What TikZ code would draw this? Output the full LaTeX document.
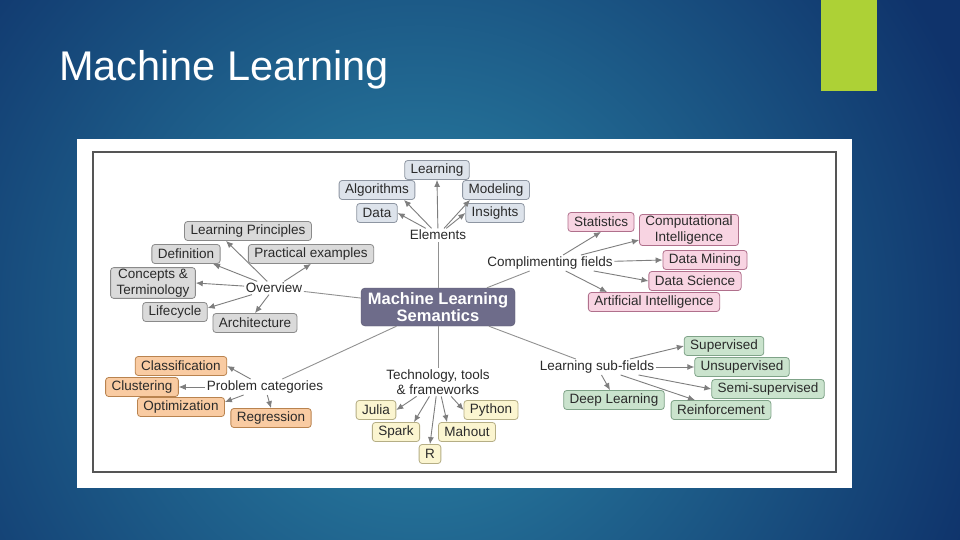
\documentclass[tikz,border=0pt]{standalone}
\usepackage{fontspec}
\setmainfont{Liberation Sans}
\usepackage{tikz}
\usetikzlibrary{arrows.meta}
\definecolor{SlideDeep}{HTML}{0F336B}
\definecolor{SlideGlow}{HTML}{2C88A8}
\definecolor{SlideLime}{HTML}{ADD136}
\definecolor{MapInk}{HTML}{2A2A2A}
\definecolor{MapLine}{HTML}{7E7E7E}
\definecolor{MapFrame}{HTML}{555555}
\definecolor{MapCore}{HTML}{6E6C8A}
\definecolor{ElemFill}{HTML}{DDE3EB}
\definecolor{ElemDraw}{HTML}{8E96A2}
\definecolor{ViewFill}{HTML}{DADADA}
\definecolor{ViewDraw}{HTML}{8A8A8A}
\definecolor{FieldFill}{HTML}{F8D4E2}
\definecolor{FieldDraw}{HTML}{B0708C}
\definecolor{ProbFill}{HTML}{F9CBA2}
\definecolor{ProbDraw}{HTML}{B9834F}
\definecolor{TechFill}{HTML}{FBF5D0}
\definecolor{TechDraw}{HTML}{B5AE85}
\definecolor{SubFill}{HTML}{CAE3CD}
\definecolor{SubDraw}{HTML}{7FA388}
\tikzset{
  maplabel/.style={font=\fontsize{13.5}{15.5}\selectfont, text=MapInk, inner sep=1.5pt, align=center},
  mapbox/.style={maplabel, draw, line width=0.8pt, rounded corners=3pt, minimum height=19pt, inner xsep=6pt},
  elembox/.style={mapbox, fill=ElemFill, draw=ElemDraw},
  viewbox/.style={mapbox, fill=ViewFill, draw=ViewDraw},
  fieldbox/.style={mapbox, fill=FieldFill, draw=FieldDraw},
  probbox/.style={mapbox, fill=ProbFill, draw=ProbDraw},
  techbox/.style={mapbox, fill=TechFill, draw=TechDraw},
  subbox/.style={mapbox, fill=SubFill, draw=SubDraw},
  corebox/.style={draw=MapCore!80!black, fill=MapCore, rounded corners=4pt, text=white, align=center,
    font=\bfseries\fontsize{16.5}{17}\selectfont, minimum width=154pt, minimum height=38pt, inner sep=1pt},
  mapspoke/.style={line width=0.9pt, draw=MapLine!85},
  maparrow/.style={-{Latex[length=7pt,width=6pt]}, line width=0.9pt, draw=MapLine}
}
\begin{document}
\begin{tikzpicture}[x=1pt, y=-1pt]
\useasboundingbox (0,0) rectangle (960,540);
\begin{scope}
\clip (0,0) rectangle (960,540);
\fill[SlideDeep] (0,0) rectangle (960,540);
\shade[inner color=SlideGlow, outer color=SlideDeep] (420,320) circle (590);
\end{scope}
\fill[SlideLime] (821,0) rectangle (877,91);
\node[anchor=base west, inner sep=0pt, text=white, font=\fontsize{41.5}{48}\selectfont] (ttl) at (59,81) {Machine Learning};
\fill[white] (77,139) rectangle (852,488);
\draw[MapFrame, line width=1.3pt] (93,152) rectangle (836,472);

\node[corebox] (sem) at (438,307) {Machine Learning\\Semantics};

\node[maplabel] (elem) at (438,235) {Elements};
\node[elembox] (lrn) at (437,170) {Learning};
\node[elembox] (alg) at (377,190) {Algorithms};
\node[elembox] (mdl) at (496,190) {Modeling};
\node[elembox] (dat) at (377,213) {Data};
\node[elembox] (ins) at (495,213) {Insights};

\node[maplabel] (ovw) at (274,288) {Overview};
\node[viewbox] (lpr) at (248,231) {Learning Principles};
\node[viewbox] (dfn) at (186,254) {Definition};
\node[viewbox] (pex) at (311,254) {Practical examples};
\node[viewbox] (cpt) at (153,283) {Concepts \&\\Terminology};
\node[viewbox] (lfc) at (175,312) {Lifecycle};
\node[viewbox] (arc) at (255,323) {Architecture};

\node[maplabel] (cmp) at (550,263) {Complimenting fields};
\node[fieldbox] (sta) at (601,222) {Statistics};
\node[fieldbox] (cin) at (689,230) {Computational\\Intelligence};
\node[fieldbox] (dmn) at (705,260) {Data Mining};
\node[fieldbox] (dsc) at (695,281) {Data Science};
\node[fieldbox] (ain) at (654,302) {Artificial Intelligence};

\node[maplabel] (prb) at (265,387) {Problem categories};
\node[probbox] (cls) at (181,366) {Classification};
\node[probbox] (clu) at (142,387) {Clustering};
\node[probbox] (opt) at (181,407) {Optimization};
\node[probbox] (reg) at (271,418) {Regression};

\node[maplabel] (tec) at (438,382) {Technology, tools\\\& frameworks};
\node[techbox] (jul) at (376,410) {Julia};
\node[techbox] (pyt) at (491,410) {Python};
\node[techbox] (spk) at (396,432) {Spark};
\node[techbox] (mht) at (467,432) {Mahout};
\node[techbox] (rrr) at (430,454) {R};

\node[maplabel] (sub) at (597,367) {Learning sub-fields};
\node[subbox] (sup) at (724,346) {Supervised};
\node[subbox] (uns) at (742,367) {Unsupervised};
\node[subbox] (ssv) at (768,389) {Semi-supervised};
\node[subbox] (dpl) at (614,400) {Deep Learning};
\node[subbox] (rfm) at (721,410) {Reinforcement};

\foreach \g in {elem,ovw,cmp,prb,tec,sub}
  \draw[mapspoke] (sem) -- (\g);
\foreach \a/\b/\dx/\dy in {elem/lrn.south/0/0,elem/alg.south/27/0,elem/mdl.south/-26/0,elem/dat.east/0/0,elem/ins.west/0/0,
    ovw/lpr.south/-22/0,ovw/dfn.south/27/0,ovw/pex.south/0/0,ovw/cpt.east/0/0,ovw/lfc.east/0/4,ovw/arc.north/0/0,
    cmp/sta.south/0/0,cmp/cin.west/0/-10,cmp/dmn.west/0/0,cmp/dsc.west/0/0,cmp/ain.north/-47/0,
    prb/cls.east/0/0,prb/clu.east/0/0,prb/opt.east/0/5,prb/reg.north/0/0,
    tec/jul.east/0/0,tec/spk.north/18/0,tec/rrr.north/0/0,tec/mht.north/-20/0,tec/pyt.west/0/0,
    sub/sup.west/0/0,sub/uns.west/0/0,sub/ssv.west/0/0,sub/dpl.north/-4/0,sub/rfm.north/-26/0}
  \draw[maparrow] (\a) -- ([xshift=\dx pt,yshift=\dy pt]\b);
\end{tikzpicture}
\end{document}
